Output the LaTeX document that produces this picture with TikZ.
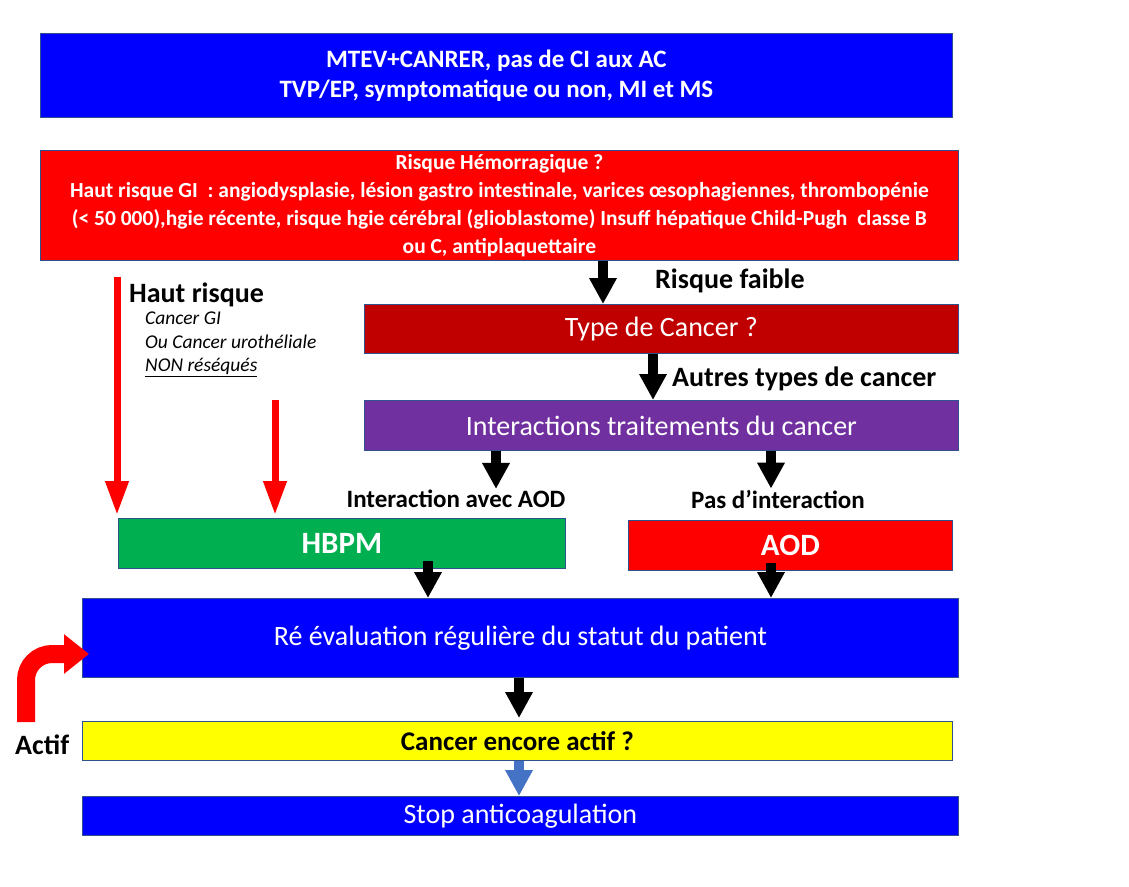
\documentclass[tikz,border=0pt]{standalone}
\usepackage{fontspec}
\setmainfont{Carlito}
\usetikzlibrary{arrows.meta}

\definecolor{pblue}{RGB}{0,0,255}
\definecolor{pred}{RGB}{255,0,0}
\definecolor{dred}{RGB}{192,0,0}
\definecolor{ppurple}{RGB}{112,48,160}
\definecolor{pgreen}{RGB}{0,176,80}
\definecolor{pyellow}{RGB}{255,255,0}
\definecolor{ablue}{RGB}{68,114,196}
\definecolor{boxline}{RGB}{47,82,143}

\tikzset{
	box/.style={draw=boxline, line width=0.8pt, anchor=north west, text=white, align=center, inner sep=0pt},
	lbl/.style={inner sep=1pt, font=\fontsize{28}{32}\selectfont\bfseries},
	blk/.style={line width=10pt, -{Triangle[width=26pt,length=26pt]}},
	redarr/.style={pred, line width=7pt, -{Triangle[width=22pt,length=34pt]}},
}

\begin{document}
\begin{tikzpicture}[x=1pt,y=-1pt]
\useasboundingbox (0,0) rectangle (1129,886);

% boxes
	\node[box, fill=pblue, minimum width=912pt, minimum height=84pt, font=\fontsize{25}{30}\selectfont\bfseries] (mtev) at (40,33)
	{MTEV+CANRER, pas de CI aux AC\\TVP/EP, symptomatique ou non, MI et MS};
	\node[box, fill=pred, minimum width=918pt, minimum height=110pt, font=\fontsize{21.5}{28}\selectfont\bfseries] (hemo) at (40,150)
	{Risque Hémorragique ?\\
	Haut risque GI\ \ : angiodysplasie,\ lésion gastro intestinale, varices œsophagiennes,\ thrombopénie\\
	(< 50 000),hgie récente, risque hgie cérébral (glioblastome) Insuff\ hépatique Child-Pugh\ \ classe B\\
	ou C, antiplaquettaire};
	\node[box, fill=dred, minimum width=594pt, minimum height=49pt, font=\fontsize{28}{32}\selectfont] (typ) at (364,304) {Type de Cancer ?};
	\node[box, fill=ppurple, minimum width=594pt, minimum height=50pt, font=\fontsize{28}{32}\selectfont] (inter) at (364,400) {Interactions traitements du cancer};
	\node[box, fill=pgreen, minimum width=447pt, minimum height=50pt, font=\fontsize{31}{34}\selectfont\bfseries] (hbpm) at (118,518) {HBPM};
	\node[box, fill=pred, minimum width=324pt, minimum height=50pt, font=\fontsize{31}{34}\selectfont\bfseries] (aod) at (628,520) {AOD};
	\node[box, fill=pblue, minimum width=876pt, minimum height=79pt, font=\fontsize{28}{32}\selectfont] (reev) at (82,598) {Ré évaluation régulière du statut du patient};
	\node[box, fill=pyellow, text=black, minimum width=870pt, minimum height=39pt, font=\fontsize{27}{30}\selectfont\bfseries] (actif) at (82,721) {Cancer encore actif ?};
	\node[box, fill=pblue, minimum width=876pt, minimum height=39pt, font=\fontsize{28}{32}\selectfont] (stop) at (82,796) {Stop anticoagulation};

% labels
	\node[lbl, anchor=west] (faible) at (654,281) {Risque faible};
	\node[lbl, anchor=west] (autres) at (671,379) {Autres types de cancer};
	\node[lbl, font=\fontsize{25}{28}\selectfont\bfseries] (avec) at (456,499) {Interaction avec AOD};
	\node[lbl, font=\fontsize{25}{28}\selectfont\bfseries] (pas) at (778,499) {Pas d’interaction};
	\node[lbl, anchor=west] (actlbl) at (14,745) {Actif};
	\node[lbl, anchor=west] (haut) at (128,295) {Haut risque};
	\node[anchor=north west, align=left, inner sep=0pt, font=\fontsize{19.5}{23.5}\selectfont\itshape] (gi) at (145,312)
	{Cancer GI\\Ou Cancer urothéliale\\\underline{NON réséqués}};

% black arrows
	\coordinate (c1) at (603,0);
	\coordinate (c2) at (653,0);
	\coordinate (c3) at (496,0);
	\coordinate (c4) at (771,0);
	\coordinate (c5) at (428,0);
	\coordinate (c6) at (519,0);
	\draw[blk] (hemo.south -| c1) -- (typ.north -| c1);
	\draw[blk] (typ.south -| c2) -- (inter.north -| c2);
	\draw[blk] (inter.south -| c3) -- (avec.north -| c3);
	\draw[blk] (inter.south -| c4) -- (pas.north -| c4);
	\draw[blk] ([yshift=8pt]hbpm.south -| c5) -- (reev.north -| c5);
	\draw[blk] ([yshift=8pt]aod.south -| c4) -- (reev.north -| c4);
	\draw[blk] (reev.south -| c6) -- ([yshift=3pt]actif.north -| c6);
	\draw[blk, ablue] (actif.south -| c6) -- (stop.north -| c6);

% red arrows
	\coordinate (r1) at (117,277);
	\coordinate (r2) at (275,400);
	\draw[redarr] (r1) -- ([yshift=3pt]hbpm.north -| r1);
	\draw[redarr] (r2) -- ([yshift=3pt]hbpm.north -| r2);

% loop back arrow
	\coordinate (lp) at (26,722);
	\coordinate (lend) at (89,654);
	\draw[pred, line width=18pt, -{Triangle[width=38pt,length=25pt]}] (lp) -- (26,680) arc[start angle=180, end angle=270, radius=26] -- (lend);

\end{tikzpicture}
\end{document}
